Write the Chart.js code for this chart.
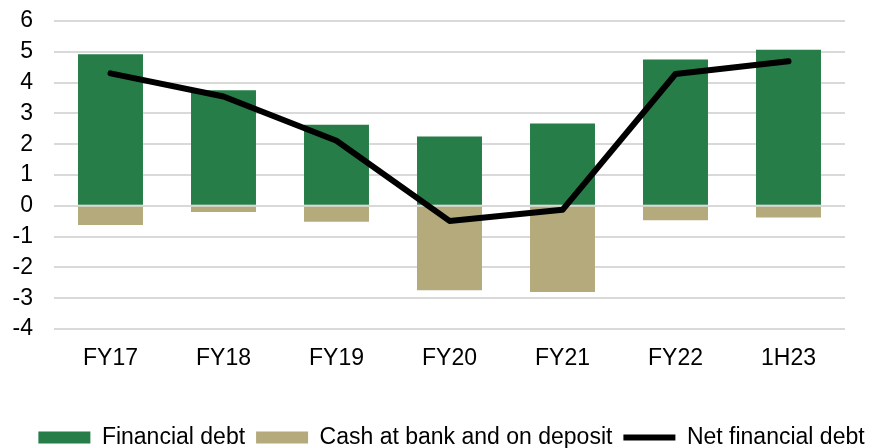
<!DOCTYPE html>
<html>
<head>
<meta charset="utf-8">
<script src="https://cdn.jsdelivr.net/npm/chart.js@4/dist/chart.umd.min.js"></script>
<style>
  html, body { margin: 0; padding: 0; background: #fff; }
  #wrap { width: 875px; height: 448px; }
</style>
</head>
<body>
<div id="wrap"><canvas id="debtChart" width="875" height="448"></canvas></div>
<script>
const categories = ["FY17", "FY18", "FY19", "FY20", "FY21", "FY22", "1H23"];
const financialDebt = [4.92, 3.75, 2.63, 2.25, 2.67, 4.75, 5.07];
const cashAtBank = [-0.62, -0.20, -0.52, -2.74, -2.80, -0.47, -0.38];
const netFinancialDebt = [4.30, 3.55, 2.11, -0.49, -0.13, 4.28, 4.69];
const yMin = -4, yMax = 6, yStep = 1;

Chart.defaults.font.family = "'Liberation Sans', Arial, sans-serif";
Chart.defaults.color = "#000";

// nudge the legend row to the right, the way the original sits
const legendShift = {
    id: "legendShift",
    afterLayout(chart) {
        chart.legend.left += 14;
        chart.legend.right += 14;
    }
};

const ctx = document.getElementById("debtChart").getContext("2d");

const debtChart = new Chart(ctx, {
    type: "bar",
    data: {
        labels: categories,
        datasets: [
            {
                label: "Financial debt",
                data: financialDebt,
                backgroundColor: "#277d48",
                borderWidth: 0,
                pointStyle: "rect",
                stack: "bars",
                order: 1,
                barPercentage: 0.575,
                categoryPercentage: 1
            },
            {
                label: "Cash at bank and on deposit",
                data: cashAtBank,
                backgroundColor: "#b4aa7c",
                borderWidth: 0,
                pointStyle: "rect",
                stack: "bars",
                order: 1,
                barPercentage: 0.575,
                categoryPercentage: 1
            },
            {
                type: "line",
                label: "Net financial debt",
                data: netFinancialDebt,
                borderColor: "#000",
                backgroundColor: "#000",
                borderWidth: 6,
                borderCapStyle: "round",
                borderJoinStyle: "round",
                pointStyle: "line",
                pointRadius: 0,
                tension: 0,
                stack: "net",
                order: 0
            }
        ]
    },
    options: {
        responsive: false,
        animation: false,
        layout: { padding: { top: 21, right: 0, left: 0, bottom: -11 } },
        plugins: {
            tooltip: { enabled: false },
            legend: {
                position: "bottom",
                labels: {
                    usePointStyle: true,
                    pointStyleWidth: 52,
                    boxHeight: 12,
                    padding: 11,
                    font: { size: 23 },
                    color: "#000",
                    sort: (a, b) => a.datasetIndex - b.datasetIndex
                }
            }
        },
        scales: {
            x: {
                stacked: true,
                grid: { display: false, drawTicks: false },
                border: { display: false },
                ticks: { padding: 16, font: { size: 23 }, color: "#000" },
                afterFit: (s) => { s.height = 86; }
            },
            y: {
                stacked: true,
                min: yMin,
                max: yMax,
                ticks: { stepSize: yStep, autoSkip: false, padding: 21, font: { size: 23 }, color: "#000" },
                grid: { color: "#d9d9d9", lineWidth: 2, drawTicks: false },
                border: { display: false },
                afterFit: (s) => { s.width = 54; s.paddingTop = 0; s.paddingBottom = 0; }
            },
            yRight: {
                position: "right",
                grid: { display: false, drawTicks: false },
                border: { display: false },
                ticks: { display: false },
                afterFit: (s) => { s.width = 30; s.paddingTop = 0; s.paddingBottom = 0; }
            }
        }
    },
    plugins: [legendShift]
});
</script>
</body>
</html>
